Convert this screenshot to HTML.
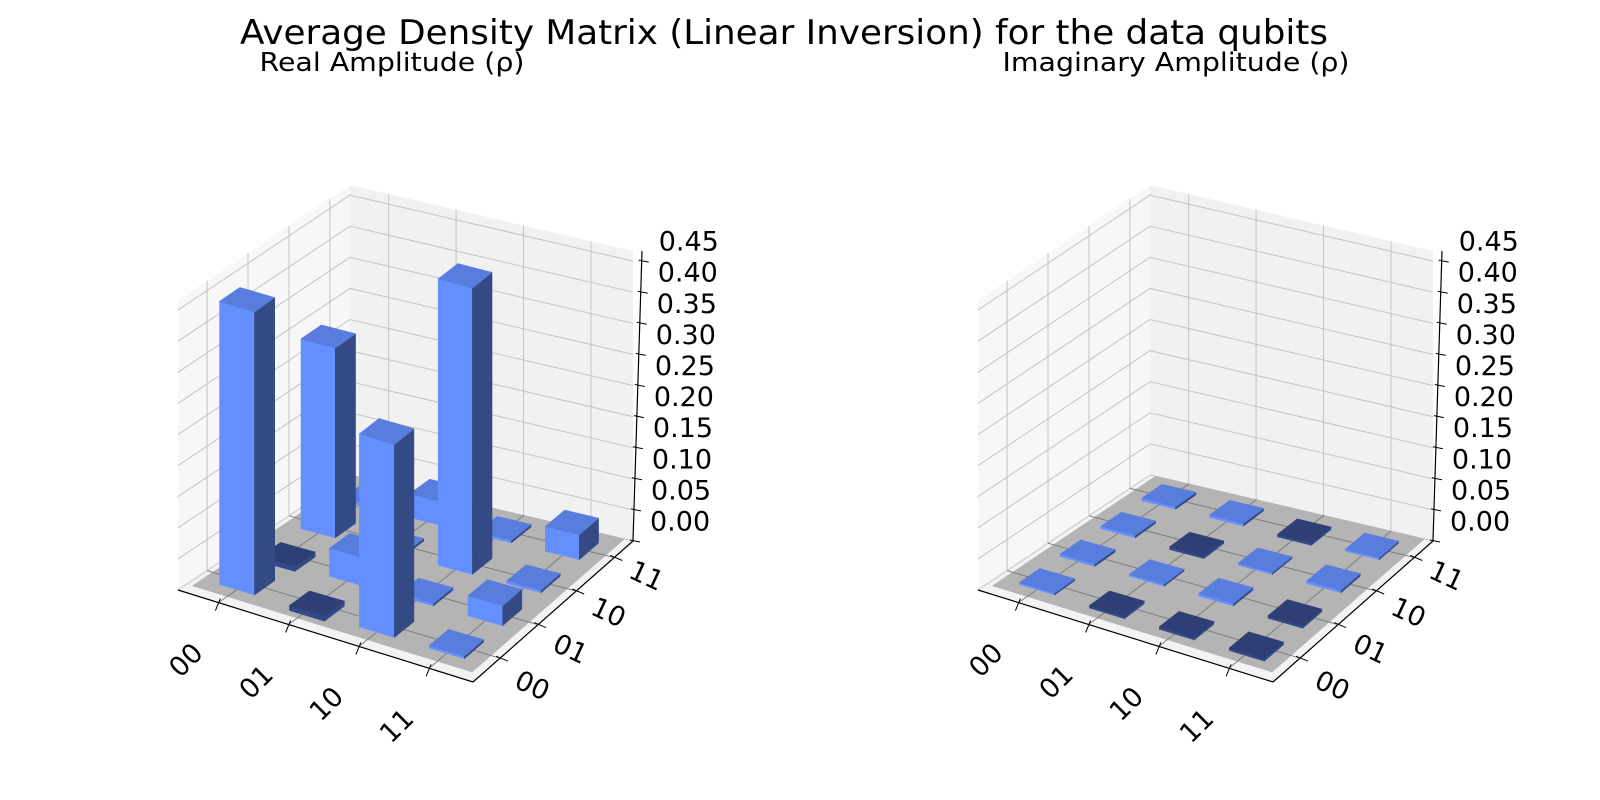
<!DOCTYPE html>
<html><head><meta charset="utf-8"><style>
html,body{margin:0;padding:0;background:#fff;}
svg{display:block;font-family:"DejaVu Sans","Liberation Sans",sans-serif;}
</style></head><body>
<svg id="chart" width="1600" height="800" viewBox="0 0 1600 800" xmlns="http://www.w3.org/2000/svg">
<rect width="1600" height="800" fill="#fff"/>
<text x="784" y="44" font-size="34" text-anchor="middle" textLength="1088" lengthAdjust="spacingAndGlyphs">Average Density Matrix (Linear Inversion) for the data qubits</text>
<text x="392" y="71" font-size="26" text-anchor="middle" textLength="265" lengthAdjust="spacingAndGlyphs">Real Amplitude (ρ)</text>
<text x="1176" y="71" font-size="26" text-anchor="middle" textLength="347" lengthAdjust="spacingAndGlyphs">Imaginary Amplitude (ρ)</text>
<g id="real-plot"></g>
<g id="imag-plot"></g>
</svg>
<script>
// ---- data ----
const basisLabels = ['00','01','10','11'];
const zTickValues = [0,0.05,0.10,0.15,0.20,0.25,0.30,0.35,0.40,0.45];
const zTickLabels = ['0.00','0.05','0.10','0.15','0.20','0.25','0.30','0.35','0.40','0.45'];
// real part: realRowN[j] = value at column label N (front-left axis), row label j (right axis)
const realRow0 = [0.455, -0.008, 0.305, 0.004];
const realRow1 = [-0.008, 0.045, 0.004, 0.038];
const realRow2 = [0.31, 0.004, 0.46, 0.004];
const realRow3 = [0.004, 0.032, 0.004, 0.04];
const imagRow0 = [0.003, 0.004, 0.004, 0.004];
const imagRow1 = [-0.004, 0.003, -0.004, 0.004];
const imagRow2 = [-0.004, 0.004, 0.003, -0.004];
const imagRow3 = [-0.004, -0.004, 0.004, 0.003];
const realMatrix = [realRow0, realRow1, realRow2, realRow3];
const imagMatrix = [imagRow0, imagRow1, imagRow2, imagRow3];

// ---- geometry ----
const NS = 'http://www.w3.org/2000/svg';
const CL = [178,590], CF = [473,682], CR = [633,541], CB = [350,475];
const ZSCALE = 622, ZMAX = 0.466;
function ground(X, Y) {
  const u = (X + 0.075) / 4.2, v = (Y + 0.21) / 4.2;
  const a = (1-u)*(1-v), b = u*(1-v), c = u*v, d = (1-u)*v;
  return [CL[0]*a + CF[0]*b + CR[0]*c + CB[0]*d, CL[1]*a + CF[1]*b + CR[1]*c + CB[1]*d];
}
function proj(off, X, Y, z) {
  const g = ground(X, Y);
  return [g[0] + off, g[1] - z * ZSCALE];
}
function pts(arr) { return arr.map(p => p[0].toFixed(1) + ',' + p[1].toFixed(1)).join(' '); }
function poly(parent, p, fill, stroke) {
  const el = document.createElementNS(NS, 'polygon');
  el.setAttribute('points', pts(p));
  el.setAttribute('fill', fill);
  if (stroke) { el.setAttribute('stroke', stroke); el.setAttribute('stroke-width', '0.6'); }
  parent.appendChild(el);
  return el;
}
function line(parent, a, b, color, w) {
  const el = document.createElementNS(NS, 'line');
  el.setAttribute('x1', a[0].toFixed(1)); el.setAttribute('y1', a[1].toFixed(1));
  el.setAttribute('x2', b[0].toFixed(1)); el.setAttribute('y2', b[1].toFixed(1));
  el.setAttribute('stroke', color); el.setAttribute('stroke-width', w);
  parent.appendChild(el);
  return el;
}
function text(parent, x, y, s, size, anchor, rot) {
  const el = document.createElementNS(NS, 'text');
  el.setAttribute('x', x); el.setAttribute('y', y);
  el.setAttribute('font-size', size);
  el.setAttribute('text-anchor', anchor);
  el.setAttribute('dominant-baseline', 'central');
  if (rot) el.setAttribute('transform', 'rotate(' + rot + ' ' + x + ' ' + y + ')');
  el.textContent = s;
  parent.appendChild(el);
  return el;
}
const XMIN = -0.075, XMAX = 4.125, YMIN = -0.21, YMAX = 3.99;

function drawPlot(g, off, matrix) {
  const P = (X, Y, z) => proj(off, X, Y, z);
  let e = poly(g, [P(XMIN,YMIN,0), P(XMAX,YMIN,0), P(XMAX,YMAX,0), P(XMIN,YMAX,0)], '#f3f3f3');
   
  e = poly(g, [P(XMIN,YMIN,0), P(XMIN,YMAX,0), P(XMIN,YMAX,ZMAX), P(XMIN,YMIN,ZMAX)], '#f7f7f7');
   
  e = poly(g, [P(XMIN,YMAX,0), P(XMAX,YMAX,0), P(XMAX,YMAX,ZMAX), P(XMIN,YMAX,ZMAX)], '#f1f1f1');
   
  zTickValues.forEach(z => {
    e = line(g, P(XMIN,YMIN,z), P(XMIN,YMAX,z), '#c4c4c4', 1);
     
    e = line(g, P(XMIN,YMAX,z), P(XMAX,YMAX,z), '#c4c4c4', 1);
     
  });
  basisLabels.forEach((lab, i) => {
    const t = i + 0.5;
    e = line(g, P(XMIN,t,0), P(XMIN,t,ZMAX), '#c4c4c4', 1);
     
    e = line(g, P(t,YMAX,0), P(t,YMAX,ZMAX), '#c4c4c4', 1);
     
  });
  e = poly(g, [P(0,0,0), P(4,0,0), P(4,4,0), P(0,4,0)], '#b4b4b4');
   
  basisLabels.forEach((lab, i) => {
    const t = i + 0.5;
    e = line(g, P(t,YMIN,0), P(t,4,0), '#7d7d7d', 1);
     
    e = line(g, P(XMIN,t,0), P(XMAX,t,0), '#7d7d7d', 1);
     
  });
  e = line(g, P(XMIN,YMIN,0), P(XMAX,YMIN,0), '#000', 1.2);
   
  e = line(g, P(XMAX,YMIN,0), P(XMAX,YMAX,0), '#000', 1.2);
   
  const zb = P(XMAX,YMAX,0);
  const zx = z => zb[0] + 9 * z / ZMAX;
  e = line(g, [zb[0], zb[1]], [zx(ZMAX), zb[1] - ZMAX*ZSCALE], '#000', 1.2);
   
  zTickValues.forEach((z, k) => {
    const y = zb[1] - z * ZSCALE, x = zx(z);
    e = line(g, [x-3, y-1], [x+7, y+1], '#000', 1);
     
    e = text(g, x + 17, y - 19, zTickLabels[k], 27, 'start', 0);
     
  });
  basisLabels.forEach((lab, i) => {
    const t = i + 0.5;
    const a = P(t, YMIN, 0);
    e = line(g, [a[0]+2, a[1]-4], [a[0]-3, a[1]+8], '#000', 1);
     
    e = text(g, a[0]-32, a[1]+58, lab, 27, 'middle', -45);
     
    const b = P(XMAX, t, 0);
    e = line(g, [b[0]-4, b[1]-2], [b[0]+8, b[1]+3], '#000', 1);
     
    e = text(g, b[0]+32, b[1]+28 - i*3, lab, 27, 'middle', 25);
     
  });
  const bars = [];
  matrix.forEach((row, i) => row.forEach((val, j) => bars.push({i, j, val})));
  bars.sort((a, b) => (a.i - a.j) - (b.i - b.j) || a.i - b.i);
  bars.forEach(b => {
    const X0 = b.i + 0.25, X1 = b.i + 0.75, Y0 = b.j + 0.25, Y1 = b.j + 0.75;
    const z0 = Math.min(0, b.val), z1 = Math.max(0, b.val);
    const bg = document.createElementNS(NS, 'g');
    
    
    g.appendChild(bg);
    const neg = b.val < 0;
    poly(bg, [P(X0,Y0,z0), P(X1,Y0,z0), P(X1,Y0,z1), P(X0,Y0,z1)], neg ? '#34498a' : '#6490ff', neg ? '#34498a' : '#6490ff');
    poly(bg, [P(X1,Y0,z0), P(X1,Y1,z0), P(X1,Y1,z1), P(X1,Y0,z1)], '#334a84', '#334a84');
    poly(bg, [P(X0,Y0,z1), P(X1,Y0,z1), P(X1,Y1,z1), P(X0,Y1,z1)], neg ? '#2e3f76' : '#587ddd', neg ? '#2e3f76' : '#587ddd');
  });
}
drawPlot(document.getElementById('real-plot'), 0, realMatrix);
drawPlot(document.getElementById('imag-plot'), 800, imagMatrix);
</script>
</body></html>
